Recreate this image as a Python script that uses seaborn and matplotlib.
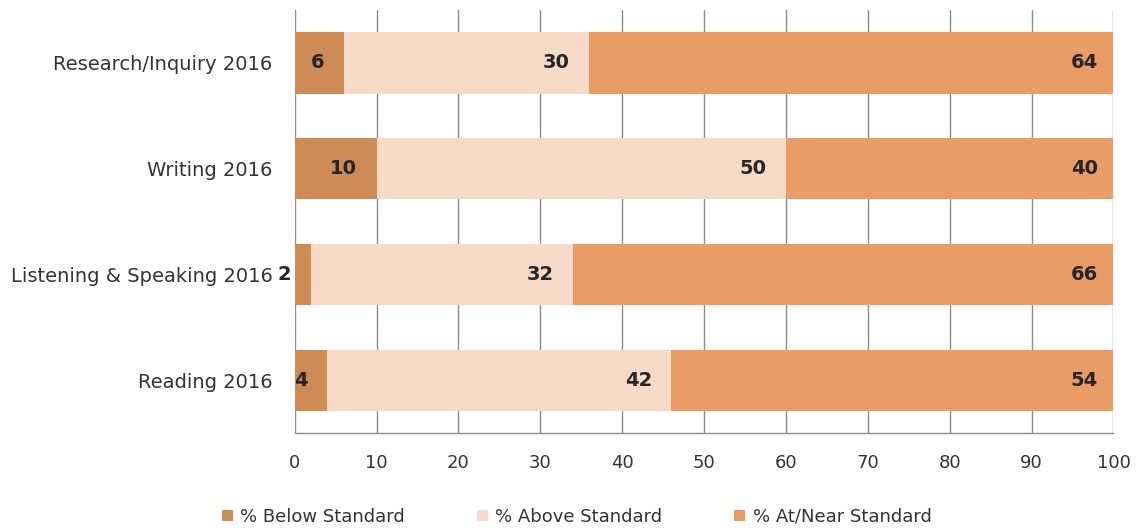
import matplotlib
matplotlib.use("Agg")
import matplotlib.pyplot as plt
import seaborn as sns
import pandas as pd
from matplotlib.patches import Patch

categories = ["Research/Inquiry 2016", "Writing 2016", "Listening & Speaking 2016", "Reading 2016"]
below = [6, 10, 2, 4]
above = [30, 50, 32, 42]
atnear = [64, 40, 66, 54]
series_names = ["% Below Standard", "% Above Standard", "% At/Near Standard"]
colors = ["#cf8b55", "#f6dac8", "#e99c66"]
xticks = [0, 10, 20, 30, 40, 50, 60, 70, 80, 90, 100]

sns.set_theme(style="white")
plt.rcParams["font.family"] = ["DejaVu Sans"]

fig = plt.figure(figsize=(11.42, 5.29), dpi=100)
ax = fig.add_axes([0.258, 0.181, 0.717, 0.800])

cum1 = below
cum2 = [b + a for b, a in zip(below, above)]
cum3 = [c + n for c, n in zip(cum2, atnear)]

df = pd.DataFrame({"cat": categories, "c1": cum1, "c2": cum2, "c3": cum3})

for col, colr in zip(["c3", "c2", "c1"], colors[::-1]):
    sns.barplot(data=df, y="cat", x=col, color=colr, orient="h", width=0.58,
                ax=ax, saturation=1, linewidth=0, zorder=3)

# labels
for i in range(len(categories)):
    for end, val in zip([cum1[i], cum2[i], cum3[i]], [below[i], above[i], atnear[i]]):
        ax.annotate(str(val), xy=(end, i), xytext=(-14 if end < 100 else -11, 0),
                    textcoords="offset points", ha="right", va="center",
                    fontsize=14, fontweight="bold", color="#262626", zorder=5)

ax.set_xlim(0, 100)
ax.set_ylim(3.5, -0.5)
ax.set_xticks(xticks)
ax.set_xticklabels([str(t) for t in xticks])
ax.set_xlabel("")
ax.set_ylabel("")
ax.grid(axis="x", color="#8c8c8c", linewidth=1.0, zorder=0)
ax.grid(axis="y", visible=False)
ax.set_axisbelow(True)
for s in ["top", "right", "left"]:
    ax.spines[s].set_visible(False)
ax.spines["bottom"].set_color("#8c8c8c")
ax.spines["bottom"].set_linewidth(1.0)
ax.tick_params(axis="x", length=0, pad=15, labelsize=13, labelcolor="#333333")
ax.tick_params(axis="y", length=0, pad=16, labelsize=14, labelcolor="#333333")

handles = [Patch(facecolor=c, edgecolor="none") for c in colors]
fig.legend(handles, series_names, loc="lower center", bbox_to_anchor=(0.505, -0.025),
           ncol=3, frameon=False, fontsize=13, handlelength=0.6, handleheight=0.6,
           handletextpad=0.4, columnspacing=4.0, labelcolor="#333333")

fig.savefig("out.png", dpi=100)
